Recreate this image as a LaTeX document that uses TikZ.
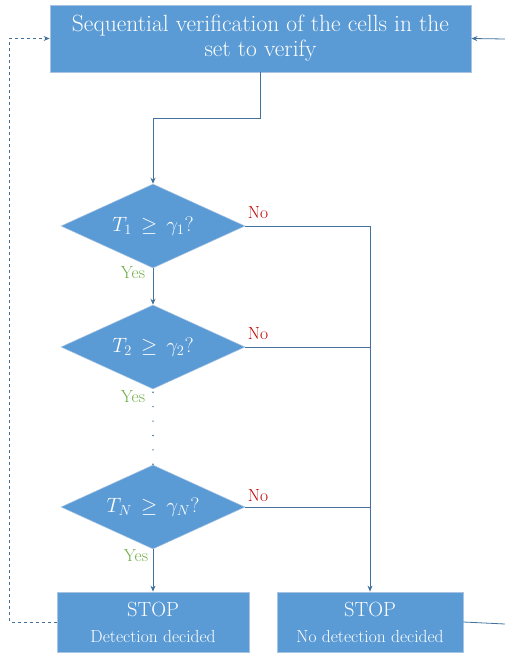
\documentclass[tikz,border=0pt]{standalone}
\usetikzlibrary{shapes.geometric,arrows.meta}
\definecolor{boxfill}{HTML}{5B9BD5}
\definecolor{boxedge}{HTML}{A9C4E2}
\definecolor{lineblue}{HTML}{41719C}
\definecolor{nored}{HTML}{C00000}
\definecolor{yesgreen}{HTML}{70AD47}
\begin{document}
\begin{tikzpicture}[x=1pt,y=-1pt,
  box/.style={rectangle,fill=boxfill,draw=boxedge,line width=0.8pt,text=white,align=center,inner sep=0pt},
  decision/.style={diamond,fill=boxfill,draw=boxedge,line width=0.5pt,text=white,inner sep=0pt,aspect=2.19,minimum width=184pt,minimum height=84pt,font=\fontsize{21}{24}\selectfont},
  conn/.style={draw=lineblue,line width=0.8pt},
  arr/.style={conn,-{Stealth[length=6pt,width=5pt]}},
  nolab/.style={text=nored,font=\fontsize{17.5}{20}\selectfont},
  yeslab/.style={text=yesgreen,font=\fontsize{17.5}{20}\selectfont}]
\useasboundingbox (0,0) rectangle (505,655);
\node[box,minimum width=421pt,minimum height=67pt,font=\fontsize{23.5}{25}\selectfont] (top) at (260.5,38.5) {Sequential verification of the cells in the\\ set to verify};
\node[decision] (d1) at (153,226) {$T_1\,\geq\,\gamma_1$?};
\node[decision] (d2) at (153,347) {$T_2\,\geq\,\gamma_2$?};
\node[decision] (d3) at (153,507) {$T_N\,\geq\,\gamma_N$?};
\node[box,minimum width=192pt,minimum height=60pt,font=\fontsize{17.5}{26}\selectfont] (b1) at (153,622) {{\fontsize{20.5}{22}\selectfont STOP}\\ Detection decided};
\node[box,minimum width=186pt,minimum height=60pt,font=\fontsize{17.5}{26}\selectfont] (b2) at (370,622) {{\fontsize{20.5}{22}\selectfont STOP}\\ No detection decided};
\coordinate (r1) at (505,624);
\coordinate (r2) at (505,39);
\draw[arr] (top.south) -- (top.south |- 0,118) -| (d1.north);
\draw[arr] (d1.south) -- (d2.north);
\draw[draw=lineblue,line width=1.6pt,line cap=round,dash pattern=on 0pt off 14.4pt] (d2.south) ++(0,3) -- (d3.north);
\draw[arr] (d3.south) -- (b1.north);
\draw[arr] (d1.east) -| (b2.north);
\draw[conn] (d2.east) -- (d2.east -| b2.north);
\draw[conn] (d3.east) -- (d3.east -| b2.north);
\draw[arr,dashed] (b1.west) -- ++(-47,0) |- (top.west);
\draw[conn] (b2.east) -- (r1);
\draw[arr] (r2) -- (top.east);
\node[nolab] (n1) at (258,213) {No};
\node[nolab] (n2) at (258,334) {No};
\node[nolab] (n3) at (258,496) {No};
\node[yeslab] (y1) at (133,273) {Yes};
\node[yeslab] (y2) at (133,397) {Yes};
\node[yeslab] (y3) at (136,556) {Yes};
\end{tikzpicture}
\end{document}
